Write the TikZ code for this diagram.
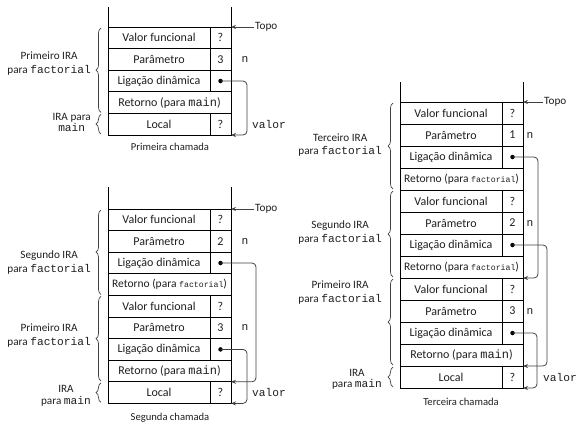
\documentclass[tikz,border=0pt]{standalone}
\usepackage{fontspec}
\setmainfont{Carlito}
\setmonofont{Liberation Mono}
\usetikzlibrary{decorations.pathreplacing,arrows.meta}
\definecolor{ink}{gray}{0.12}
\definecolor{wire}{gray}{0.25}
\newcommand\smallmono[1]{{\ttfamily\fontsize{8.2}{9}\selectfont #1}}
\def\rowht{21.6pt}
\begin{document}
\begin{tikzpicture}[x=1pt,y=-1pt,
  every node/.style={text=ink, font=\fontsize{11.2}{13.5}\selectfont},
  cell/.style={draw=black, line width=0.8pt, minimum height=\rowht, inner sep=0pt, outer sep=0pt, anchor=north west, font=\fontsize{12}{13}\selectfont},
  namecell/.style={cell, minimum width=102pt},
  valcell/.style={cell, minimum width=21pt},
  fullcell/.style={cell, minimum width=123pt},
  retf/.style={fullcell, font=\fontsize{11.5}{13}\selectfont},
  dot/.style={circle, fill=black, inner sep=0pt, outer sep=0pt, minimum size=4.5pt},
  conn/.style={draw=wire, line width=0.8pt, rounded corners=4pt, -{Stealth[length=5pt,width=4pt]}},
  topoarrow/.style={draw=wire, line width=0.8pt, -{Stealth[length=5pt,width=4pt]}},
  brc/.style={draw=wire, line width=0.7pt, decorate, decoration={brace, amplitude=5pt}},
  stackline/.style={draw=black, line width=0.8pt},
  lbl/.style={align=center, anchor=east, inner sep=0pt},
  tight/.style={font=\fontsize{11.2}{11.5}\selectfont},
  title/.style={font=\fontsize{10.6}{12}\selectfont},
]
\useasboundingbox (0,0) rectangle (577,424);

% ================= Primeira chamada =================
\def\rowht{21.6pt}
\node[namecell] (a1) at (108,27) {Valor funcional};
\node[valcell] (a1v) at (a1.north east) {?};
\node[namecell] (a2) at (a1.south west) {Parâmetro};
\node[valcell] (a2v) at (a2.north east) {3};
\node[namecell] (a3) at (a2.south west) {Ligação dinâmica};
\node[valcell] (a3v) at (a3.north east) {};
\node[dot] (a3d) at (a3v.center) {};
\node[fullcell] (a4) at (a3.south west) {Retorno (para \texttt{main})};
\node[namecell] (a5) at (a4.south west) {Local};
\node[valcell] (a5v) at (a5.north east) {?};
\draw[stackline] (a1.north west) -- ++(0,-20);
\draw[stackline] (a1v.north east) -- ++(0,-20);
\node[anchor=west, inner sep=1pt] (ta) at (254,27) {Topo};
\draw[topoarrow] (ta.west) -- (a1v.north east);
\node (na) at ([xshift=14pt]a2v.east) {\ttfamily n};
\draw[conn] (a3d.center) -| ([xshift=16pt]a5v.south east) -- (a5v.south east);
\node[anchor=west, inner sep=0pt] (va) at ([xshift=21pt]a5v.east) {\ttfamily valor};
\draw[brc] ([xshift=-7pt,yshift=1pt]a4.south west) -- ([xshift=-7pt,yshift=-1pt]a1.north west);
\draw[brc] ([xshift=-7pt,yshift=1pt]a5.south west) -- ([xshift=-7pt,yshift=-1pt]a5.north west);
\node[lbl] (la1) at (91,63.5) {Primeiro IRA\\para \texttt{factorial}};
\node[lbl, tight] (la2) at (91,122.5) {IRA para\\\texttt{main}};
\node[title] (tta) at (170,147) {Primeira chamada};

% ================= Segunda chamada =================
\node[namecell] (b1) at (108,209) {Valor funcional};
\node[valcell] (b1v) at (b1.north east) {?};
\node[namecell] (b2) at (b1.south west) {Parâmetro};
\node[valcell] (b2v) at (b2.north east) {2};
\node[namecell] (b3) at (b2.south west) {Ligação dinâmica};
\node[valcell] (b3v) at (b3.north east) {};
\node[dot] (b3d) at (b3v.center) {};
\node[retf] (b4) at (b3.south west) {Retorno (para \smallmono{factorial})};
\node[namecell] (b5) at (b4.south west) {Valor funcional};
\node[valcell] (b5v) at (b5.north east) {?};
\node[namecell] (b6) at (b5.south west) {Parâmetro};
\node[valcell] (b6v) at (b6.north east) {3};
\node[namecell] (b7) at (b6.south west) {Ligação dinâmica};
\node[valcell] (b7v) at (b7.north east) {};
\node[dot] (b7d) at (b7v.center) {};
\node[fullcell] (b8) at (b7.south west) {Retorno (para \texttt{main})};
\node[namecell] (b9) at (b8.south west) {Local};
\node[valcell] (b9v) at (b9.north east) {?};
\draw[stackline] (b1.north west) -- ++(0,-22);
\draw[stackline] (b1v.north east) -- ++(0,-22);
\node[anchor=west, inner sep=1pt] (tb) at (254,209) {Topo};
\draw[topoarrow] (tb.west) -- (b1v.north east);
\node (nb1) at ([xshift=14pt]b2v.east) {\ttfamily n};
\node (nb2) at ([xshift=14pt]b6v.east) {\ttfamily n};
\draw[conn] (b3d.center) -| ([xshift=25pt]b8.south east) -- (b8.south east);
\draw[conn] (b7d.center) -| ([xshift=16pt]b9v.south east) -- (b9v.south east);
\node[anchor=west, inner sep=0pt] (vb) at ([xshift=21pt]b9v.east) {\ttfamily valor};
\draw[brc] ([xshift=-7pt,yshift=1pt]b4.south west) -- ([xshift=-7pt,yshift=-1pt]b1.north west);
\draw[brc] ([xshift=-7pt,yshift=1pt]b8.south west) -- ([xshift=-7pt,yshift=-1pt]b5.north west);
\draw[brc] ([xshift=-7pt,yshift=1pt]b9.south west) -- ([xshift=-7pt,yshift=-1pt]b9.north west);
\node[lbl] (lb1) at (91,262.5) {Segundo IRA\\para \texttt{factorial}};
\node[lbl] (lb2) at (91,335.5) {Primeiro IRA\\para \texttt{factorial}};
\node[lbl, tight] (lb3) at (91,396) {IRA\\para \texttt{main}};
\node[title] (ttb) at (170,418) {Segunda chamada};

% ================= Terceira chamada =================
\def\rowht{22pt}
\node[namecell] (c1) at (400,102) {Valor funcional};
\node[valcell] (c1v) at (c1.north east) {?};
\node[namecell] (c2) at (c1.south west) {Parâmetro};
\node[valcell] (c2v) at (c2.north east) {1};
\node[namecell] (c3) at (c2.south west) {Ligação dinâmica};
\node[valcell] (c3v) at (c3.north east) {};
\node[dot] (c3d) at (c3v.center) {};
\node[retf] (c4) at (c3.south west) {Retorno (para \smallmono{factorial})};
\node[namecell] (c5) at (c4.south west) {Valor funcional};
\node[valcell] (c5v) at (c5.north east) {?};
\node[namecell] (c6) at (c5.south west) {Parâmetro};
\node[valcell] (c6v) at (c6.north east) {2};
\node[namecell] (c7) at (c6.south west) {Ligação dinâmica};
\node[valcell] (c7v) at (c7.north east) {};
\node[dot] (c7d) at (c7v.center) {};
\node[retf] (c8) at (c7.south west) {Retorno (para \smallmono{factorial})};
\node[namecell] (c9) at (c8.south west) {Valor funcional};
\node[valcell] (c9v) at (c9.north east) {?};
\node[namecell] (c10) at (c9.south west) {Parâmetro};
\node[valcell] (c10v) at (c10.north east) {3};
\node[namecell] (c11) at (c10.south west) {Ligação dinâmica};
\node[valcell] (c11v) at (c11.north east) {};
\node[dot] (c11d) at (c11v.center) {};
\node[fullcell] (c12) at (c11.south west) {Retorno (para \texttt{main})};
\node[namecell] (c13) at (c12.south west) {Local};
\node[valcell] (c13v) at (c13.north east) {?};
\draw[stackline] (c1.north west) -- ++(0,-20);
\draw[stackline] (c1v.north east) -- ++(0,-20);
\node[anchor=west, inner sep=1pt] (tc) at (543,102) {Topo};
\draw[topoarrow] (tc.west) -- (c1v.north east);
\node (nc1) at ([xshift=7pt]c2v.east) {\ttfamily n};
\node (nc2) at ([xshift=7pt]c6v.east) {\ttfamily n};
\node (nc3) at ([xshift=7pt]c10v.east) {\ttfamily n};
\draw[conn] (c3d.center) -| ([xshift=15pt]c8.south east) -- (c8.south east);
\draw[conn] (c7d.center) -| ([xshift=24pt]c12.south east) -- (c12.south east);
\draw[conn] (c11d.center) -| ([xshift=14pt]c13v.south east) -- (c13v.south east);
\node[anchor=west, inner sep=0pt] (vc) at ([xshift=20pt]c13v.east) {\ttfamily valor};
\draw[brc] ([xshift=-7pt,yshift=1pt]c4.south west) -- ([xshift=-7pt,yshift=-1pt]c1.north west);
\draw[brc] ([xshift=-7pt,yshift=1pt]c8.south west) -- ([xshift=-7pt,yshift=-1pt]c5.north west);
\draw[brc] ([xshift=-7pt,yshift=1pt]c12.south west) -- ([xshift=-7pt,yshift=-1pt]c9.north west);
\draw[brc] ([xshift=-7pt,yshift=1pt]c13.south west) -- ([xshift=-7pt,yshift=-1pt]c13.north west);
\node[lbl] (lc1) at (382,145) {Terceiro IRA\\para \texttt{factorial}};
\node[lbl] (lc2) at (382,232.5) {Segundo IRA\\para \texttt{factorial}};
\node[lbl] (lc3) at (382,292.5) {Primeiro IRA\\para \texttt{factorial}};
\node[lbl, tight] (lc4) at (382,379.5) {IRA\\para \texttt{main}};
\node[title] (ttc) at (461,402) {Terceira chamada};
\end{tikzpicture}
\end{document}
